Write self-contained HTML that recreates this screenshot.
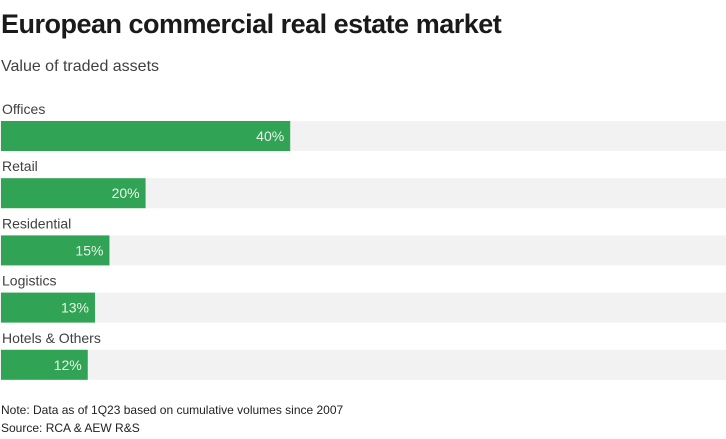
<!DOCTYPE html>
<html><head><meta charset="utf-8"><style>
body{margin:0;width:726px;height:439px;background:#fff;font-family:"Liberation Sans",sans-serif;overflow:hidden;position:relative}
.t{position:absolute;left:1px;top:9px;font-size:27px;font-weight:bold;color:#1a1a1a;letter-spacing:-0.5px}
.s{position:absolute;left:1px;top:58px;font-size:16px;color:#404040}
.n{position:absolute;left:1px;font-size:12px;color:#222}
</style></head><body>
<div class="t">European commercial real estate market</div>
<div class="s">Value of traded assets</div>
<svg id="c" width="726" height="439" style="position:absolute;left:0;top:0"></svg>
<div class="n" style="top:403px">Note: Data as of 1Q23 based on cumulative volumes since 2007</div>
<div class="n" style="top:421px">Source: RCA &amp; AEW R&amp;S</div>
<script>
const categories=["Offices","Retail","Residential","Logistics","Hotels & Others"];
const values=[40,20,15,13,12];
const valueLabels=["40%","20%","15%","13%","12%"];
const svg=document.getElementById('c');const NS='http://www.w3.org/2000/svg';
const x=v=>1+v*7.23;const y0=121,step=57.2,bh=30;
categories.forEach((c,i)=>{
 const top=y0+i*step;
 let tr=document.createElementNS(NS,'rect');
 tr.setAttribute('x',0);tr.setAttribute('y',top);tr.setAttribute('width',726);tr.setAttribute('height',bh);tr.setAttribute('fill','#f2f2f2');
 
 
 svg.appendChild(tr);
 let r=document.createElementNS(NS,'rect');
 r.setAttribute('x',1);r.setAttribute('y',top);r.setAttribute('width',x(values[i])-1);r.setAttribute('height',bh);r.setAttribute('fill','#31a354');
 
 
 svg.appendChild(r);
 let l=document.createElementNS(NS,'text');
 l.setAttribute('x',2);l.setAttribute('y',top-7);l.setAttribute('font-size','14');l.setAttribute('fill','#404040');l.setAttribute('font-family','Liberation Sans, sans-serif');
 l.textContent=c;
 
 
 svg.appendChild(l);
 let v=document.createElementNS(NS,'text');
 v.setAttribute('x',x(values[i])-6);v.setAttribute('y',top+20);v.setAttribute('font-size','14');v.setAttribute('fill','#e8f5ea');v.setAttribute('text-anchor','end');v.setAttribute('font-family','Liberation Sans, sans-serif');
 v.textContent=valueLabels[i];
 
 
 svg.appendChild(v);
});
</script>
</body></html>
